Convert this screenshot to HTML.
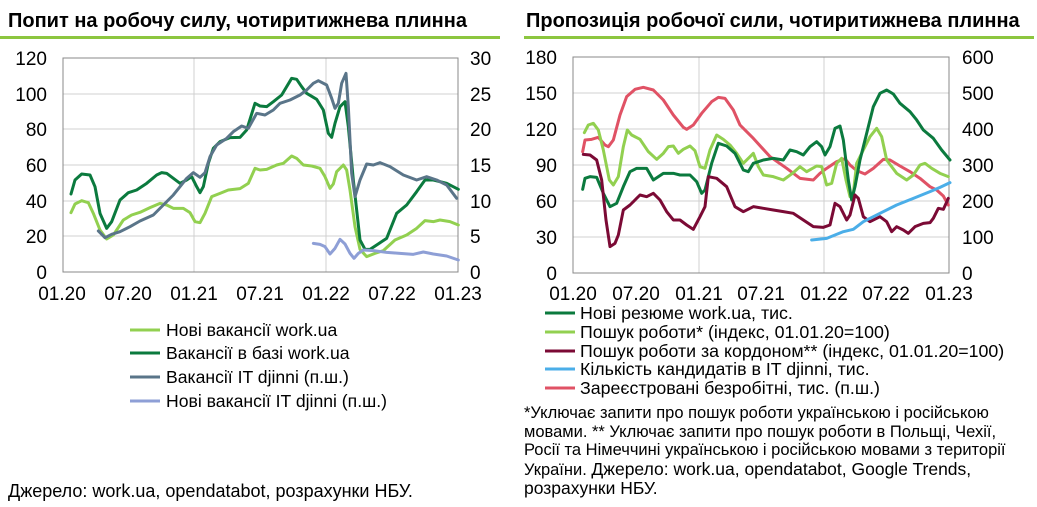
<!DOCTYPE html>
<html><head><meta charset="utf-8"><style>
body{margin:0;width:1037px;height:507px;background:#fff;font-family:"Liberation Sans",Arial,sans-serif;overflow:hidden;position:relative}
.t{position:absolute;white-space:nowrap;color:#000}
</style></head><body>
<div class="t" style="left:8px;top:10px;font-size:20px;font-weight:bold">Попит на робочу силу, чотиритижнева плинна</div>
<div class="t" style="left:526px;top:10px;font-size:20px;font-weight:bold">Пропозиція робочої сили, чотиритижнева плинна</div>
<div style="position:absolute;left:0;top:36px;width:500px;height:3px;background:#8cc63f"></div>
<div style="position:absolute;left:524px;top:36px;width:510px;height:3px;background:#8cc63f"></div>
<svg width="1037" height="507" style="position:absolute;left:0;top:0" font-family="Liberation Sans, Arial, sans-serif" font-size="19">
<g stroke="#d0d0d0" stroke-width="1">
<line x1="63" y1="58" x2="458" y2="58"/><line x1="63" y1="94" x2="458" y2="94"/><line x1="63" y1="129" x2="458" y2="129"/><line x1="63" y1="165" x2="458" y2="165"/><line x1="63" y1="201" x2="458" y2="201"/><line x1="63" y1="236" x2="458" y2="236"/>
<line x1="194" y1="58" x2="194" y2="272"/><line x1="326" y1="58" x2="326" y2="272"/>
<line x1="573" y1="57" x2="949" y2="57"/><line x1="573" y1="93" x2="949" y2="93"/><line x1="573" y1="129" x2="949" y2="129"/><line x1="573" y1="165" x2="949" y2="165"/><line x1="573" y1="201" x2="949" y2="201"/><line x1="573" y1="237" x2="949" y2="237"/>
<line x1="699" y1="57" x2="699" y2="273"/><line x1="824" y1="57" x2="824" y2="273"/>
</g>
<g stroke="#888" stroke-width="1" fill="none">
<rect x="63" y="58" width="395" height="214"/><rect x="573" y="57" width="376" height="216"/>
</g>
<g text-anchor="end" fill="#000">
<text x="47" y="65">120</text><text x="47" y="101">100</text><text x="47" y="136">80</text><text x="47" y="172">60</text><text x="47" y="208">40</text><text x="47" y="243">20</text><text x="47" y="279">0</text>
<text x="557" y="64">180</text><text x="557" y="100">150</text><text x="557" y="136">120</text><text x="557" y="172">90</text><text x="557" y="208">60</text><text x="557" y="244">30</text><text x="557" y="280">0</text>
</g>
<g fill="#000">
<text x="470" y="65">30</text><text x="470" y="101">25</text><text x="470" y="136">20</text><text x="470" y="172">15</text><text x="470" y="208">10</text><text x="470" y="243">5</text><text x="470" y="279">0</text>
<text x="962" y="64">600</text><text x="962" y="100">500</text><text x="962" y="136">400</text><text x="962" y="172">300</text><text x="962" y="208">200</text><text x="962" y="244">100</text><text x="962" y="280">0</text>
</g>
<g text-anchor="middle" fill="#000">
<text x="62" y="300">01.20</text><text x="128" y="300">07.20</text><text x="194" y="300">01.21</text><text x="260" y="300">07.21</text><text x="326" y="300">01.22</text><text x="392" y="300">07.22</text><text x="458" y="300">01.23</text>
<text x="573" y="300">01.20</text><text x="636" y="300">07.20</text><text x="699" y="300">01.21</text><text x="761" y="300">07.21</text><text x="824" y="300">01.22</text><text x="886" y="300">07.22</text><text x="949" y="300">01.23</text>
</g>
<g transform="translate(0,40) scale(0.33333)" fill="none" stroke-width="9" stroke-linejoin="round" stroke-linecap="round">
<polyline stroke="#92d050" points="213,518 225,492 245,482 265,488 280,520 300,570 320,597 340,585 370,540 395,525 420,517 450,503 480,490 500,495 520,505 550,505 570,518 585,545 600,548 615,520 635,470 660,460 685,450 720,446 745,430 765,385 780,390 800,388 830,375 850,370 875,348 890,355 910,375 935,378 960,385 975,410 990,445 1000,432 1010,395 1030,375 1040,390 1050,450 1065,560 1080,628 1100,650 1125,640 1150,632 1185,600 1220,585 1250,565 1275,542 1300,545 1320,540 1350,545 1375,555"/>
<polyline stroke="#0b7a3e" points="213,462 225,420 245,402 270,405 285,440 300,520 320,565 335,545 360,480 385,458 410,450 440,430 470,405 485,398 500,400 520,415 540,430 560,420 575,410 590,440 600,458 610,440 625,370 640,325 660,305 690,293 720,292 740,270 765,190 780,198 800,200 820,185 845,165 875,115 890,118 905,140 920,160 950,178 970,210 985,280 995,292 1005,250 1020,200 1035,185 1045,260 1060,420 1080,600 1095,628 1110,628 1130,615 1160,595 1190,520 1220,495 1250,455 1275,420 1300,420 1340,430 1375,448"/>
<polyline stroke="#5a7589" points="295,573 315,593 335,583 360,575 390,560 420,543 460,525 490,495 520,465 540,440 560,415 580,398 600,412 615,398 630,350 650,315 680,295 700,275 725,258 745,265 770,220 795,225 820,210 840,190 870,180 900,165 920,150 940,130 955,122 980,135 995,175 1005,205 1015,190 1025,130 1038,100 1045,200 1055,400 1065,470 1080,420 1100,372 1120,375 1140,368 1170,380 1210,405 1250,420 1280,410 1310,420 1340,435 1370,475"/>
<polyline stroke="#8e9fd6" points="940,610 960,613 975,620 990,642 1005,625 1020,598 1035,612 1050,640 1062,655 1075,640 1090,630 1120,632 1160,637 1200,640 1240,643 1270,636 1300,642 1340,648 1375,660"/>
</g>
<g transform="translate(520,40) scale(0.33333)" fill="none" stroke-width="9" stroke-linejoin="round" stroke-linecap="round">
<polyline stroke="#e05265" points="188,335 195,300 215,298 235,292 255,315 265,320 280,300 300,225 320,170 345,148 370,142 400,150 430,180 460,225 490,262 500,268 520,255 545,220 575,185 595,172 615,175 640,210 660,255 700,295 750,350 800,385 840,415 880,420 900,400 920,385 950,365 975,356 990,375 1010,392 1035,402 1060,385 1090,358 1110,360 1140,378 1170,395 1200,415 1230,440 1250,450 1270,468 1285,495"/>
<polyline stroke="#92d050" points="193,278 205,255 220,250 235,270 250,330 268,420 280,435 295,410 310,320 322,270 335,285 360,298 385,335 410,358 430,340 445,320 460,318 475,340 490,328 510,318 525,332 540,380 555,385 570,330 590,285 610,298 630,315 650,340 670,370 690,350 700,340 715,380 730,405 760,410 790,420 820,398 840,380 860,395 890,378 905,380 920,435 935,430 950,370 965,355 978,420 990,470 1000,460 1010,370 1030,330 1050,290 1070,265 1085,290 1100,360 1130,400 1160,420 1180,405 1200,375 1215,370 1235,385 1260,400 1285,410"/>
<polyline stroke="#0b7a3e" points="188,448 195,415 210,410 230,412 250,460 270,500 290,490 310,440 330,395 350,385 380,385 400,420 430,400 460,400 480,405 510,405 530,425 545,460 555,450 575,370 595,310 620,318 645,340 670,390 685,395 700,370 730,360 760,355 790,360 810,330 830,335 850,345 870,320 890,305 905,320 915,345 930,320 945,265 960,258 970,300 985,420 995,480 1005,440 1020,360 1040,280 1060,200 1080,160 1100,150 1120,162 1140,190 1170,215 1190,240 1210,270 1240,295 1265,330 1290,360"/>
<polyline stroke="#7b0a35" points="190,343 210,345 230,360 245,420 258,540 270,620 285,610 295,585 310,510 330,495 345,480 360,465 380,470 400,460 420,480 440,515 460,540 480,540 500,555 520,568 540,530 555,500 565,410 590,415 620,440 645,500 670,515 700,500 730,505 760,510 790,515 820,520 850,540 880,560 910,562 930,555 945,490 960,500 980,540 990,525 1005,465 1015,475 1030,530 1050,545 1080,530 1100,545 1115,575 1130,560 1150,570 1165,580 1185,560 1210,550 1230,548 1240,535 1255,505 1270,508 1285,475"/>
<polyline stroke="#4baee8" points="875,600 920,595 945,585 970,575 1000,568 1030,545 1080,520 1130,495 1180,475 1230,455 1260,442 1290,428"/>
</g>
<g stroke-width="3">
<line x1="130" y1="330" x2="160" y2="330" stroke="#92d050"/>
<line x1="130" y1="353" x2="160" y2="353" stroke="#0b7a3e"/>
<line x1="130" y1="377" x2="160" y2="377" stroke="#5a7589"/>
<line x1="130" y1="401" x2="160" y2="401" stroke="#8e9fd6"/>
<line x1="545" y1="313" x2="575" y2="313" stroke="#0b7a3e"/>
<line x1="545" y1="332" x2="575" y2="332" stroke="#92d050"/>
<line x1="545" y1="351" x2="575" y2="351" stroke="#7b0a35"/>
<line x1="545" y1="369" x2="575" y2="369" stroke="#4baee8"/>
<line x1="545" y1="388" x2="575" y2="388" stroke="#e05265"/>
</g>
<g fill="#000" font-size="17.6">
<text x="166" y="336">Нові вакансії work.ua</text>
<text x="166" y="359">Вакансії в базі work.ua</text>
<text x="166" y="383">Вакансії IT djinni (п.ш.)</text>
<text x="166" y="407">Нові вакансії IT djinni (п.ш.)</text>
</g>
<g fill="#000" font-size="17.8">
<text x="580" y="319">Нові резюме work.ua, тис.</text>
<text x="580" y="338">Пошук роботи* (індекс, 01.01.20=100)</text>
<text x="580" y="357">Пошук роботи за кордоном** (індекс, 01.01.20=100)</text>
<text x="580" y="375">Кількість кандидатів в IT djinni, тис.</text>
<text x="580" y="394">Зареєстровані безробітні, тис. (п.ш.)</text>
</g>
</svg>
<div class="t" style="left:8px;top:481px;font-size:18px">Джерело: work.ua, opendatabot, розрахунки НБУ.</div>
<div class="t" style="left:524px;top:404px;font-size:16.5px;line-height:18.5px;white-space:nowrap">*Уключає запити про пошук роботи українською і російською<br>мовами. ** Уключає запити про пошук роботи в Польщі, Чехії,<br>Росії та Німеччині українською і російською мовами з території<br>України. <span style="font-size:17.5px">Джерело: work.ua, opendatabot, Google Trends,<br>розрахунки НБУ.</span></div>
</body></html>
